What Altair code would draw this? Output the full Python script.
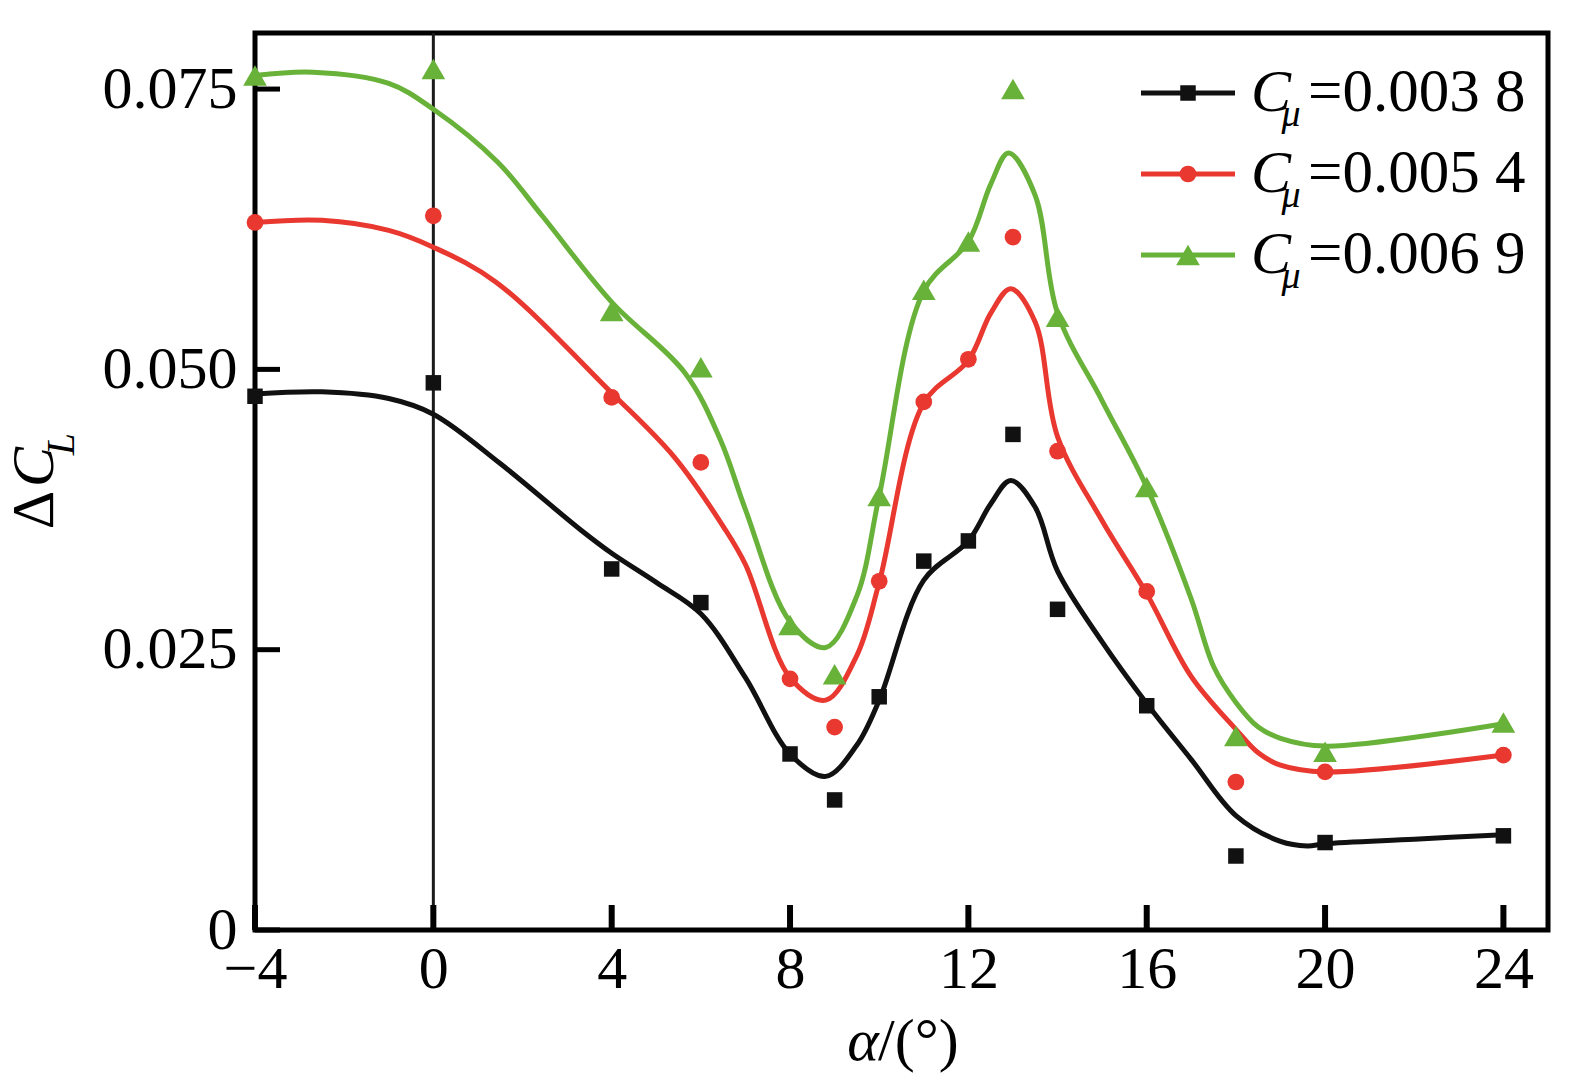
import altair as alt
import pandas as pd

# ---------------- data ----------------
series_names = ["C1", "C2", "C3"]
legend_values = ["=0.003 8", "=0.005 4", "=0.006 9"]
colors = ["#111111", "#e8382f", "#68b23a"]
shapes = ["square", "circle", "triangle-up"]
sizes = [240, 280, 560]

alpha_pts = [-4, 0, 4, 6, 8, 9, 10, 11, 12, 13, 14, 16, 18, 20, 24]
pts_black = [0.0476, 0.0488, 0.0322, 0.0292, 0.0157, 0.0116, 0.0208, 0.0329, 0.0347, 0.0442, 0.0286, 0.0200, 0.0066, 0.0078, 0.0084]
pts_red = [0.0631, 0.0637, 0.0475, 0.0417, 0.0224, 0.0181, 0.0311, 0.0471, 0.0509, 0.0618, 0.0427, 0.0302, 0.0132, 0.0141, 0.0156]
pts_green = [0.0762, 0.0768, 0.0552, 0.0502, 0.0272, 0.0228, 0.0387, 0.0571, 0.0614, 0.0750, 0.0547, 0.0395, 0.0173, 0.0159, 0.0185]

cx_black = [-4, -2.5, -1, 0, 1.5, 3.3, 4, 5, 6, 7, 8, 8.8, 9.5, 10, 11, 12, 12.5, 12.95, 13.5, 14, 15, 16, 17, 18, 19, 19.6, 20, 22, 24]
cy_black = [0.0478, 0.0480, 0.0474, 0.0460, 0.0416, 0.0357, 0.0336, 0.0310, 0.0282, 0.0225, 0.0157, 0.0137, 0.0165, 0.0205, 0.0312, 0.0347, 0.0380, 0.0401, 0.0377, 0.0320, 0.0257, 0.0202, 0.0152, 0.0102, 0.0079, 0.0075, 0.0077, 0.0081, 0.0085]

cx_red = [-4, -2.5, -1, 0, 1.4, 4, 5.4, 6.5, 7, 8, 8.8, 9.5, 10, 11, 12, 12.5, 12.95, 13.5, 14, 15, 16, 17, 18, 18.5, 19, 20, 24]
cy_red = [0.0631, 0.0633, 0.0624, 0.0609, 0.0578, 0.0479, 0.0422, 0.0360, 0.0326, 0.0225, 0.0205, 0.0245, 0.0310, 0.0470, 0.0508, 0.0550, 0.0572, 0.0542, 0.0440, 0.0365, 0.0300, 0.0226, 0.0179, 0.0158, 0.0147, 0.0141, 0.0156]

cx_green = [-4, -2.7, -1, 0, 1.44, 2.44, 4, 5.64, 6.44, 7, 8, 8.8, 9.5, 10, 11, 12, 12.5, 12.9, 13.5, 14, 15, 16, 17, 17.5, 18, 18.5, 19, 20, 24]
cy_green = [0.0762, 0.0765, 0.0755, 0.0732, 0.0685, 0.0637, 0.0560, 0.0497, 0.0437, 0.0375, 0.0275, 0.0252, 0.0298, 0.0387, 0.0570, 0.0614, 0.0665, 0.0693, 0.0655, 0.0550, 0.0472, 0.0395, 0.0295, 0.0235, 0.0203, 0.0181, 0.0171, 0.0164, 0.0184]

x_ticks = [-4, 0, 4, 8, 12, 16, 20, 24]
y_ticks = [0, 0.025, 0.05, 0.075]
vline_x = [0]

# ---------------- tables ----------------
curve_df = pd.concat([
    pd.DataFrame({"alpha": cx, "dcl": cy, "series": s})
    for cx, cy, s in zip([cx_black, cx_red, cx_green], [cy_black, cy_red, cy_green], series_names)
])

W, H = 1293, 897
FONT = "Liberation Serif"
FS = 60

xscale = alt.Scale(domain=[-4, 25], nice=False, zero=False)
yscale = alt.Scale(domain=[0, 0.08], nice=False)
cscale = alt.Scale(domain=series_names, range=colors)

xaxis = alt.Axis(values=x_ticks, title=None, domain=False, ticks=False, grid=False,
                 labelFont=FONT, labelFontSize=FS, labelColor="black", labelPadding=10,
                 labelFlush=False, labelOverlap=False)
yaxis = alt.Axis(values=y_ticks, title=None, domain=False, ticks=False, grid=False,
                 labelFont=FONT, labelFontSize=FS, labelColor="black", labelPadding=18,
                 labelOverlap=False,
                 labelExpr="datum.value == 0 ? '0' : format(datum.value, '.3f')")

lines = alt.Chart(curve_df).mark_line(interpolate="catmull-rom", strokeWidth=5).encode(
    x=alt.X("alpha:Q", scale=xscale, axis=xaxis),
    y=alt.Y("dcl:Q", scale=yscale, axis=yaxis),
    color=alt.Color("series:N", scale=cscale, legend=None),
    detail="series:N",
)

point_layers = []
for vals, col, shp, sz in zip([pts_black, pts_red, pts_green], colors, shapes, sizes):
    point_layers.append(
        alt.Chart(pd.DataFrame({"alpha": alpha_pts, "dcl": vals})).mark_point(
            filled=True, opacity=1, color=col, shape=shp, size=sz).encode(
            x=alt.X("alpha:Q", scale=xscale),
            y=alt.Y("dcl:Q", scale=yscale)))

vline = alt.Chart(pd.DataFrame({"x0": vline_x})).mark_rule(color="#1a1a1a", strokeWidth=3).encode(
    x=alt.X("x0:Q", scale=xscale), y=alt.value(0), y2=alt.value(H)
)

xt = alt.Chart(pd.DataFrame({"xt": x_ticks})).mark_rule(color="black", strokeWidth=6).encode(
    x=alt.X("xt:Q", scale=xscale), y=alt.value(H), y2=alt.value(H - 25)
)
yt = alt.Chart(pd.DataFrame({"yt": y_ticks})).mark_rule(color="black", strokeWidth=5).encode(
    y=alt.Y("yt:Q", scale=yscale), x=alt.value(0), x2=alt.value(25)
)

# ---------------- axis titles ----------------
def txt(s, x, y, size=FS, style="normal", align="left", baseline="alphabetic", angle=0):
    kw = dict(font=FONT, fontSize=size, fontStyle=style, align=align,
              baseline=baseline, color="black")
    if angle:
        kw["angle"] = angle
    return alt.Chart(pd.DataFrame({"t": [s]})).mark_text(**kw).encode(
        x=alt.value(x), y=alt.value(y), text="t:N")

titles = [
    txt("α", 608, 1027, style="italic", align="center"),
    txt("/(°)", 623, 1027),
    txt("Δ", -202, 477, align="center", angle=270),
    txt("C", -202, 434, style="italic", align="center", angle=270),
    txt("L", -181, 411, size=40, style="italic", align="center", angle=270),
]

# ---------------- legend ----------------
legend_layers = []
rows = [60, 141, 222]
for i in range(3):
    r = rows[i]
    legend_layers.append(
        alt.Chart(pd.DataFrame({"s": [series_names[i]]})).mark_rule(color=colors[i], strokeWidth=5).encode(
            x=alt.value(886), x2=alt.value(980), y=alt.value(r)))
    legend_layers.append(
        alt.Chart(pd.DataFrame({"s": [series_names[i]]})).mark_point(
            shape=shapes[i], filled=True, opacity=1, color=colors[i], size=sizes[i]).encode(
            x=alt.value(933), y=alt.value(r)))
    legend_layers.append(txt("C", 996, r, style="italic", baseline="middle"))
    legend_layers.append(txt("μ", 1036, r + 33, size=38, style="italic", align="center"))
    legend_layers.append(txt(legend_values[i], 1053, r, size=61, baseline="middle"))

chart = alt.layer(vline, lines, *point_layers, xt, yt, *titles, *legend_layers).properties(
    width=W, height=H,
    autosize=alt.AutoSizeParams(type="none"),
    padding={"left": 247, "top": 25, "right": 35, "bottom": 155},
    background="white",
).configure_view(stroke="black", strokeWidth=5)

chart.save("out.html", embed_options={"renderer": "svg", "actions": False})
